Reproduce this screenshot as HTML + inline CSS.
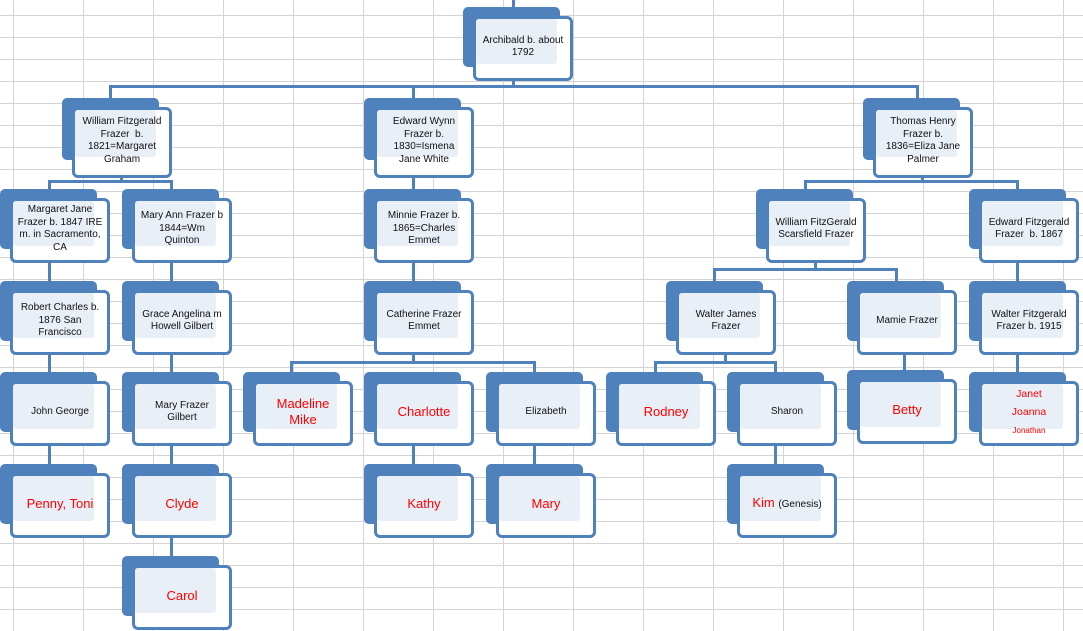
<!DOCTYPE html>
<html><head><meta charset="utf-8"><style>
body{margin:0;width:1083px;height:631px;overflow:hidden;background:#fff;position:relative;font-family:"Liberation Sans",Arial,sans-serif;
background-image:linear-gradient(to right,#d4d4d4 1px,transparent 1px),linear-gradient(to bottom,#d4d4d4 1px,transparent 1px);
background-size:70px 22px;background-position:13px 15px;}
.l{position:absolute;background:#4f81bd}
.n{position:absolute;width:110px;height:75px}
.b{position:absolute;left:0;top:0;width:97px;height:60px;background:#4f81bd;border-radius:5px}
.f{position:absolute;left:10px;top:9px;width:94px;height:59px;border:3px solid #4f81bd;border-radius:6px;background:#fff}
.i{position:absolute;left:13px;top:12px;width:81px;height:45px;background:#e9eff7;border-radius:3px}
.t{position:absolute;left:13px;top:12px;width:94px;height:56px;display:flex;align-items:center;justify-content:center;text-align:center;font-size:10px;line-height:12.5px;color:#111;white-space:nowrap}
.r{color:#f00;font-size:13px;line-height:16px}
.tall .f{height:65px}.tall .t{height:62px}.tall .b{height:62px}.tall .i{height:47px}
</style></head><body>
<div class="l" style="left:512px;top:0;width:3px;height:8px"></div>
<div class="l" style="left:512px;top:78px;width:3px;height:10px"></div>
<div class="l" style="left:109px;top:85px;width:810px;height:3px"></div>
<div class="l" style="left:109px;top:85px;width:3px;height:14px"></div>
<div class="l" style="left:412px;top:85px;width:3px;height:14px"></div>
<div class="l" style="left:916px;top:85px;width:3px;height:14px"></div>
<div class="l" style="left:120px;top:176px;width:3px;height:6px"></div>
<div class="l" style="left:48px;top:180px;width:125px;height:3px"></div>
<div class="l" style="left:48px;top:180px;width:3px;height:10px"></div>
<div class="l" style="left:170px;top:180px;width:3px;height:10px"></div>
<div class="l" style="left:412px;top:176px;width:3px;height:14px"></div>
<div class="l" style="left:921px;top:176px;width:3px;height:6px"></div>
<div class="l" style="left:804px;top:180px;width:215px;height:3px"></div>
<div class="l" style="left:804px;top:180px;width:3px;height:10px"></div>
<div class="l" style="left:1016px;top:180px;width:3px;height:10px"></div>
<div class="l" style="left:48px;top:262px;width:3px;height:203px"></div>
<div class="l" style="left:170px;top:262px;width:3px;height:295px"></div>
<div class="l" style="left:412px;top:262px;width:3px;height:30px"></div>
<div class="l" style="left:412px;top:352px;width:3px;height:12px"></div>
<div class="l" style="left:290px;top:361px;width:246px;height:3px"></div>
<div class="l" style="left:290px;top:361px;width:3px;height:12px"></div>
<div class="l" style="left:533px;top:361px;width:3px;height:12px"></div>
<div class="l" style="left:412px;top:444px;width:3px;height:22px"></div>
<div class="l" style="left:533px;top:444px;width:3px;height:22px"></div>
<div class="l" style="left:814px;top:262px;width:3px;height:9px"></div>
<div class="l" style="left:713px;top:268px;width:185px;height:3px"></div>
<div class="l" style="left:713px;top:268px;width:3px;height:14px"></div>
<div class="l" style="left:895px;top:268px;width:3px;height:14px"></div>
<div class="l" style="left:724px;top:352px;width:3px;height:12px"></div>
<div class="l" style="left:654px;top:361px;width:123px;height:3px"></div>
<div class="l" style="left:654px;top:361px;width:3px;height:12px"></div>
<div class="l" style="left:774px;top:361px;width:3px;height:12px"></div>
<div class="l" style="left:774px;top:444px;width:3px;height:22px"></div>
<div class="l" style="left:1016px;top:262px;width:3px;height:112px"></div>
<div class="l" style="left:903px;top:352px;width:3px;height:22px"></div>

<div class="n" style="left:463px;top:7px"><div class="b"></div><div class="f"></div><div class="i"></div><div class="t">Archibald b. about<br>1792</div></div>

<div class="n tall" style="left:62px;top:98px"><div class="b"></div><div class="f"></div><div class="i"></div><div class="t">William Fitzgerald<br>Frazer&nbsp; b.<br>1821=Margaret<br>Graham</div></div>
<div class="n tall" style="left:364px;top:98px"><div class="b"></div><div class="f"></div><div class="i"></div><div class="t">Edward Wynn<br>Frazer b.<br>1830=Ismena<br>Jane White</div></div>
<div class="n tall" style="left:863px;top:98px"><div class="b"></div><div class="f"></div><div class="i"></div><div class="t">Thomas Henry<br>Frazer b.<br>1836=Eliza Jane<br>Palmer</div></div>

<div class="n" style="left:0px;top:189px"><div class="b"></div><div class="f"></div><div class="i"></div><div class="t">Margaret Jane<br>Frazer b. 1847 IRE<br>m. in Sacramento,<br>CA</div></div>
<div class="n" style="left:122px;top:189px"><div class="b"></div><div class="f"></div><div class="i"></div><div class="t">Mary Ann Frazer b<br>1844=Wm<br>Quinton</div></div>
<div class="n" style="left:364px;top:189px"><div class="b"></div><div class="f"></div><div class="i"></div><div class="t">Minnie Frazer b.<br>1865=Charles<br>Emmet</div></div>
<div class="n" style="left:756px;top:189px"><div class="b"></div><div class="f"></div><div class="i"></div><div class="t">William FitzGerald<br>Scarsfield Frazer</div></div>
<div class="n" style="left:969px;top:189px"><div class="b"></div><div class="f"></div><div class="i"></div><div class="t">Edward Fitzgerald<br>Frazer&nbsp; b. 1867</div></div>

<div class="n" style="left:0px;top:281px"><div class="b"></div><div class="f"></div><div class="i"></div><div class="t">Robert Charles b.<br>1876 San<br>Francisco</div></div>
<div class="n" style="left:122px;top:281px"><div class="b"></div><div class="f"></div><div class="i"></div><div class="t">Grace Angelina m<br>Howell Gilbert</div></div>
<div class="n" style="left:364px;top:281px"><div class="b"></div><div class="f"></div><div class="i"></div><div class="t">Catherine Frazer<br>Emmet</div></div>
<div class="n" style="left:666px;top:281px"><div class="b"></div><div class="f"></div><div class="i"></div><div class="t">Walter James<br>Frazer</div></div>
<div class="n" style="left:847px;top:281px"><div class="b"></div><div class="f"></div><div class="i"></div><div class="t">Mamie Frazer</div></div>
<div class="n" style="left:969px;top:281px"><div class="b"></div><div class="f"></div><div class="i"></div><div class="t">Walter Fitzgerald<br>Frazer b. 1915</div></div>

<div class="n" style="left:0px;top:372px"><div class="b"></div><div class="f"></div><div class="i"></div><div class="t">John George</div></div>
<div class="n" style="left:122px;top:372px"><div class="b"></div><div class="f"></div><div class="i"></div><div class="t">Mary Frazer<br>Gilbert</div></div>
<div class="n" style="left:243px;top:372px"><div class="b"></div><div class="f"></div><div class="i"></div><div class="t r">Madeline<br>Mike</div></div>
<div class="n" style="left:364px;top:372px"><div class="b"></div><div class="f"></div><div class="i"></div><div class="t r">Charlotte</div></div>
<div class="n" style="left:486px;top:372px"><div class="b"></div><div class="f"></div><div class="i"></div><div class="t">Elizabeth</div></div>
<div class="n" style="left:606px;top:372px"><div class="b"></div><div class="f"></div><div class="i"></div><div class="t r">Rodney</div></div>
<div class="n" style="left:727px;top:372px"><div class="b"></div><div class="f"></div><div class="i"></div><div class="t">Sharon</div></div>
<div class="n" style="left:847px;top:370px"><div class="b"></div><div class="f"></div><div class="i"></div><div class="t r">Betty</div></div>
<div class="n" style="left:969px;top:372px"><div class="b"></div><div class="f"></div><div class="i"></div><div class="t" style="color:#f00;font-size:10.5px;line-height:18px"><div>Janet<br>Joanna<br><span style="font-size:8px">Jonathan</span></div></div></div>

<div class="n" style="left:0px;top:464px"><div class="b"></div><div class="f"></div><div class="i"></div><div class="t r">Penny, Toni</div></div>
<div class="n" style="left:122px;top:464px"><div class="b"></div><div class="f"></div><div class="i"></div><div class="t r">Clyde</div></div>
<div class="n" style="left:364px;top:464px"><div class="b"></div><div class="f"></div><div class="i"></div><div class="t r">Kathy</div></div>
<div class="n" style="left:486px;top:464px"><div class="b"></div><div class="f"></div><div class="i"></div><div class="t r">Mary</div></div>
<div class="n" style="left:727px;top:464px"><div class="b"></div><div class="f"></div><div class="i"></div><div class="t r"><div>Kim&nbsp;<span style="color:#111;font-size:10px">(Genesis)</span></div></div></div>

<div class="n" style="left:122px;top:556px"><div class="b"></div><div class="f"></div><div class="i"></div><div class="t r">Carol</div></div>
</body></html>
